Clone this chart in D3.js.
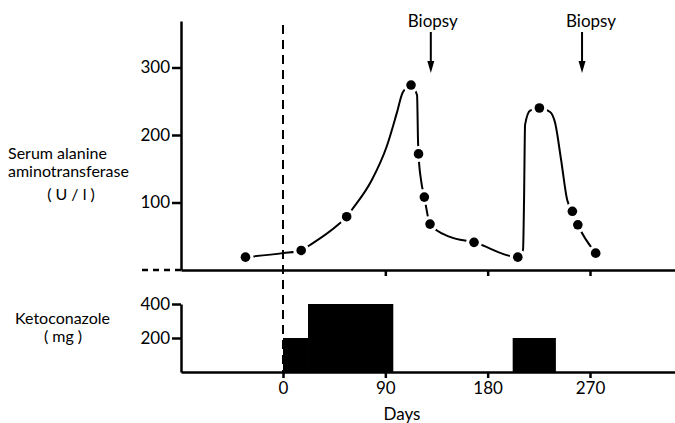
<!DOCTYPE html>
<meta charset="utf-8">
<head>
  <title>ALT and ketoconazole</title>
</head>

<style>
body { margin: 0; background: white; }
text {
  font-family: Lato, "DejaVu Sans", sans-serif;
  font-size: 17px;
  fill: black;
}
.lbl { font-size: 16px; }
.axis path, .axis line { stroke: black; stroke-width: 2.5; }
.axis text { font-size: 17px; font-family: Lato, sans-serif; }
</style>

<body>
  <svg width="675" height="423"></svg>

  <script src="https://cdnjs.cloudflare.com/ajax/libs/d3/7.8.5/d3.min.js"></script>
  <script>

// measured ALT values (day, U/l)
var altDays   = [-33, 16, 56, 112.6, 119.2, 124.3, 129.3, 168, 206.5, 225.5, 254.5, 259.3, 275];
var altValues = [19, 29, 79, 274, 172, 108, 68, 41, 19, 240, 87, 67, 25];

// hand-drawn fitted curve
var curveDays   = [-33, 0, 16, 23.7, 48.4, 56, 60.9, 78, 91.2, 100, 105.3, 112.6, 117.9, 118.8, 119.2, 121.4, 124.3, 129.3, 146.9, 168, 206.5, 211.1, 212, 212.9, 217.3, 225.5, 234.9, 239.3, 244.6, 249.9, 254.5, 259.3, 275];
var curveValues = [19, 25, 29, 37, 67, 79, 90, 133, 183, 232, 263, 274, 259, 188, 172, 133, 108, 68, 49, 41, 19, 30, 104, 215, 236, 240, 234, 218, 163, 104, 87, 67, 25];

// ketoconazole dosing (start day, end day, mg)
var doseStart = [0, 22, 202];
var doseEnd   = [22, 97, 240];
var doseMg    = [200, 400, 200];

var biopsyDays = [130, 263];
var dayTicks = [0, 90, 180, 270];
var altTicks = [100, 200, 300];
var doseTicks = [200, 400];

var svg = d3.select('svg');

var x = d3.scaleLinear().domain([0, 270]).range([283, 590]);
var xFull = d3.scaleLinear().domain([x.invert(181), x.invert(675)]).range([181, 675]);
var yAlt = d3.scaleLinear().domain([0, 300]).range([270, 67.5]);
var yDose = d3.scaleLinear().domain([0, 400]).range([372, 304]);

// upper panel y axis
var yAltAxis = d3.scaleLinear().domain([0, yAlt.invert(21)]).range([270, 21]);
svg.append('g').attr('class', 'axis')
  .attr('transform', 'translate(181,0)')
  .call(d3.axisLeft(yAltAxis).tickValues(altTicks).tickSize(9).tickSizeOuter(0).tickPadding(2));

// lower panel y axis
svg.append('g').attr('class', 'axis')
  .attr('transform', 'translate(181,0)')
  .call(d3.axisLeft(yDose).tickValues(doseTicks).tickSize(9).tickSizeOuter(0).tickPadding(2));

// baseline between panels, ticks down
svg.append('g').attr('class', 'axis')
  .attr('transform', 'translate(0,270)')
  .call(d3.axisBottom(xFull).tickValues(dayTicks.slice(1)).tickSize(6).tickSizeOuter(0).tickFormat(''));

// bars
svg.append('g').selectAll('rect')
  .data(doseMg)
  .enter()
  .append('rect')
  .attr('x', (d, i) => x(doseStart[i]))
  .attr('y', d => yDose(d))
  .attr('width', (d, i) => x(doseEnd[i]) - x(doseStart[i]))
  .attr('height', d => yDose(0) - yDose(d))
  .attr('fill', 'black');

// bottom x axis
svg.append('g').attr('class', 'axis')
  .attr('transform', 'translate(0,372)')
  .call(d3.axisBottom(xFull).tickValues(dayTicks).tickSize(6).tickSizeOuter(0).tickPadding(4));

// dashed reference lines
svg.append('line')
  .attr('x1', x(0)).attr('x2', x(0))
  .attr('y1', 25).attr('y2', 372)
  .attr('stroke', 'black').attr('stroke-width', 2)
  .attr('stroke-dasharray', '9,6');
svg.append('line')
  .attr('x1', 142).attr('x2', 181)
  .attr('y1', 270).attr('y2', 270)
  .attr('stroke', 'black').attr('stroke-width', 2.5)
  .attr('stroke-dasharray', '6,5');

// fitted curve
var line = d3.line()
  .x(d => x(d[0]))
  .y(d => yAlt(d[1]))
  .curve(d3.curveMonotoneX);

svg.append('path')
  .datum(d3.zip(curveDays, curveValues))
  .attr('d', line)
  .attr('fill', 'none')
  .attr('stroke', 'black')
  .attr('stroke-width', 2);

// gaps around the dots
var pts = d3.zip(altDays, altValues);
svg.append('g').selectAll('circle')
  .data(pts)
  .enter()
  .append('circle')
  .attr('cx', d => x(d[0]))
  .attr('cy', d => yAlt(d[1]))
  .attr('r', 8)
  .attr('fill', 'white');

svg.append('g').selectAll('circle')
  .data(pts)
  .enter()
  .append('circle')
  .attr('cx', d => x(d[0]))
  .attr('cy', d => yAlt(d[1]))
  .attr('r', 4.8)
  .attr('fill', 'black');

// biopsy arrows
var labelShift = [2, 9];
biopsyDays.forEach(function(d, i) {
  var bx = x(d);
  svg.append('line')
    .attr('x1', bx).attr('x2', bx)
    .attr('y1', 32).attr('y2', 63)
    .attr('stroke', 'black').attr('stroke-width', 2);
  svg.append('path')
    .attr('d', d3.line()([[bx - 3.5, 61], [bx + 3.5, 61], [bx, 73]]))
    .attr('fill', 'black');
  svg.append('text')
    .attr('x', bx + labelShift[i])
    .attr('y', 27)
    .attr('text-anchor', 'middle')
    .text('Biopsy');
});

// axis titles
var leftLabels = [
  ['Serum alanine', 8, 159, 'start'],
  ['aminotransferase', 8, 177, 'start'],
  ['( U / l )', 71, 200, 'middle'],
  ['Ketoconazole', 15, 324, 'start'],
  ['( mg )', 63, 342, 'middle']
];
svg.append('g').selectAll('text')
  .data(leftLabels)
  .enter()
  .append('text')
  .attr('class', 'lbl')
  .attr('x', d => d[1])
  .attr('y', d => d[2])
  .attr('text-anchor', d => d[3])
  .text(d => d[0]);

svg.append('text')
  .attr('x', 402)
  .attr('y', 420)
  .attr('text-anchor', 'middle')
  .text('Days');

  </script>
</body>
</html>
